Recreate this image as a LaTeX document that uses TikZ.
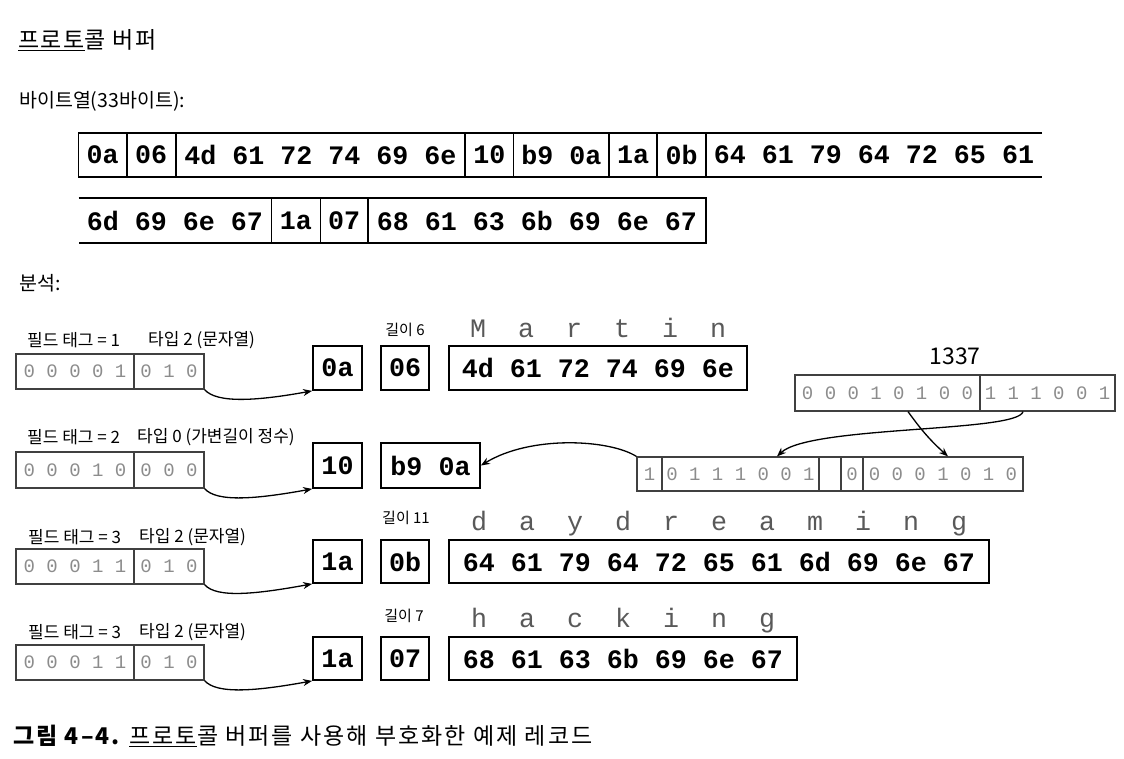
\documentclass[tikz,border=0pt]{standalone}
\usepackage{fontspec}
\setmainfont{Noto Sans CJK KR}
\newfontfamily\monof{Liberation Mono}
\usetikzlibrary{arrows.meta,calc}
\begin{document}
\begin{tikzpicture}[x=1pt,y=-1pt,
  hex/.style={font=\monof\bfseries\fontsize{26.67}{30}\selectfont, inner sep=0pt},
  hexbox/.style={hex, draw, line width=1.8pt, minimum height=44pt},
  bitcell/.style={draw=black!75, line width=1.2pt, inner sep=0pt, minimum height=35pt,
    font=\monof\fontsize{19}{20}\selectfont, text=black!45},
  ltr/.style={font=\monof\fontsize{26.67}{30}\selectfont, text=black!65, anchor=base, inner sep=0pt},
  lab/.style={font=\fontsize{17}{19}\selectfont, anchor=west, inner sep=0pt},
  lenlab/.style={font=\fontsize{15}{17}\selectfont, inner sep=0pt},
  head/.style={font=\fontsize{19.5}{22}\selectfont, anchor=west, inner sep=0pt},
  arr/.style={-{Stealth[length=9pt,width=7pt]}, line width=1.3pt},
  rowline/.style={line width=1.6pt}
]
\useasboundingbox (0,0) rectangle (1124,758);

% headings
\node[head, font=\fontsize{23}{26}\selectfont\addfontfeatures{LetterSpace=7}] (title) at (18,40) {\underline{프로토}콜 버퍼};
\node[head] (bytes) at (19,101) {바이트열(33바이트):};
\node[head] (anal) at (19,283) {분석:};

% byte row 1
\draw[rowline] (1042,133) -- (78.6,133) -- (78.6,177) -- (1042,177);
\foreach \x in {126.8,175.7,465,513.6,609,657,706} \draw[rowline] (\x,133) -- (\x,177);
\node[hex] (r1a) at (102.7,155) {0a};
\node[hex] (r1b) at (151.25,155) {06};
\node[hex] (r1c) at (320.35,155) {4d 61 72 74 69 6e};
\node[hex] (r1d) at (489.3,155) {10};
\node[hex] (r1e) at (561.3,155) {b9 0a};
\node[hex] (r1f) at (633,155) {1a};
\node[hex] (r1g) at (681.5,155) {0b};
\node[hex] (r1h) at (874,155) {64 61 79 64 72 65 61};

% byte row 2
\draw[rowline] (78.6,198) -- (706,198) -- (706,243) -- (78.6,243);
\foreach \x in {271.4,320.4,368} \draw[rowline] (\x,198) -- (\x,243);
\node[hex] (r2a) at (175,220.5) {6d 69 6e 67};
\node[hex] (r2b) at (295.9,220.5) {1a};
\node[hex] (r2c) at (344.2,220.5) {07};
\node[hex] (r2d) at (537,220.5) {68 61 63 6b 69 6e 67};

% ---- field A
\node[lab] (lA1) at (27,340) {필드 태그 = 1};
\node[lab] (lA2) at (148,340) {타입 2 (문자열)};
\node[bitcell, minimum width=118pt] (bA1) at (75,371.5) {0 0 0 0 1};
\node[bitcell, minimum width=70pt] (bA2) at (169,371.5) {0 1 0};
\node[hexbox, minimum width=49pt] (hA1) at (337.5,368) {0a};
\node[hexbox, minimum width=48pt] (hA2) at (405,368) {06};
\node[hexbox, minimum width=298pt] (hA3) at (598,368) {4d 61 72 74 69 6e};
\node[lenlab] (gA) at (405,330) {길이 6};
\foreach \c [count=\i from 0] in {M,a,r,t,i,n}
  \node[ltr] (mA\i) at (478+48*\i,337) {\c};
\draw[arr] (bA2.south east) .. controls +(12,14) and +(-55,10) .. (hA1.south west);

% ---- field B
\node[lab] (lB1) at (27,437) {필드 태그 = 2};
\node[lab] (lB2) at (137,437) {타입 0 (가변길이 정수)};
\node[bitcell, minimum width=118pt, minimum height=36pt] (bB1) at (75,470) {0 0 0 1 0};
\node[bitcell, minimum width=70pt, minimum height=36pt] (bB2) at (169,470) {0 0 0};
\node[hexbox, minimum width=49pt, minimum height=45pt] (hB1) at (337.5,465.5) {10};
\node[hexbox, minimum width=99pt, minimum height=45pt] (hB2) at (430.5,465.5) {b9 0a};
\draw[arr] (bB2.south east) .. controls +(12,14) and +(-55,10) .. (hB1.south west);

% 1337 varint
\node[font=\fontsize{23}{25}\selectfont, inner sep=0pt] (n1337) at (955,356) {1337};
\node[bitcell, minimum width=185pt, minimum height=36pt] (u1) at (887.5,393) {0 0 0 1 0 1 0 0};
\node[bitcell, minimum width=135pt, minimum height=36pt] (u2) at (1047.5,393) {1 1 1 0 0 1};
\node[bitcell, minimum width=25pt, minimum height=34pt] (l1) at (649.5,474) {1};
\node[bitcell, minimum width=157pt, minimum height=34pt] (l2) at (740.5,474) {0 1 1 1 0 0 1};
\node[bitcell, minimum width=22pt, minimum height=34pt] (l3) at (830,474) {};
\node[bitcell, minimum width=22pt, minimum height=34pt] (l4) at (852,474) {0};
\node[bitcell, minimum width=160pt, minimum height=34pt] (l5) at (943,474) {0 0 0 1 0 1 0};
\draw[arr] ([xshift=20.5pt]u1.south) to[bend right=6] ([xshift=5pt]l5.north);
\draw[arr] ([xshift=-24.5pt]u2.south) .. controls +(-5,21) and +(33,-31) .. ([xshift=36.5pt]l2.north);
\draw[arr] (l1.north west) .. controls +(-27,-17) and +(50,-30.5) .. (hB2.east);

% ---- field C
\node[lab] (lC1) at (28,537) {필드 태그 = 3};
\node[lab] (lC2) at (139,537) {타입 2 (문자열)};
\node[bitcell, minimum width=118pt] (bC1) at (75,566.5) {0 0 0 1 1};
\node[bitcell, minimum width=70pt] (bC2) at (169,566.5) {0 1 0};
\node[hexbox, minimum width=49pt, minimum height=43pt] (hC1) at (337.5,561.5) {1a};
\node[hexbox, minimum width=48pt, minimum height=43pt] (hC2) at (405,561.5) {0b};
\node[hexbox, minimum width=540pt, minimum height=43pt] (hC3) at (719,561.5) {64 61 79 64 72 65 61 6d 69 6e 67};
\node[lenlab] (gC) at (406,518) {길이 11};
\foreach \c [count=\i from 0] in {d,a,y,d,r,e,a,m,i,n,g}
  \node[ltr] (mC\i) at (479+48*\i,530) {\c};
\draw[arr] (bC2.south east) .. controls +(12,14) and +(-55,10) .. (hC1.south west);

% ---- field D
\node[lab] (lD1) at (28,632) {필드 태그 = 3};
\node[lab] (lD2) at (139,632) {타입 2 (문자열)};
\node[bitcell, minimum width=118pt] (bD1) at (75,662.5) {0 0 0 1 1};
\node[bitcell, minimum width=70pt] (bD2) at (169,662.5) {0 1 0};
\node[hexbox, minimum width=49pt, minimum height=43pt] (hD1) at (337.5,658.5) {1a};
\node[hexbox, minimum width=48pt, minimum height=43pt] (hD2) at (405,658.5) {07};
\node[hexbox, minimum width=348pt, minimum height=43pt] (hD3) at (623,658.5) {68 61 63 6b 69 6e 67};
\node[lenlab] (gD) at (404,616) {길이 7};
\foreach \c [count=\i from 0] in {h,a,c,k,i,n,g}
  \node[ltr] (mD\i) at (479+48*\i,627) {\c};
\draw[arr] (bD2.south east) .. controls +(12,14) and +(-55,10) .. (hD1.south west);

% caption
\node[anchor=west, inner sep=0pt, font=\fontsize{23}{26}\selectfont\addfontfeatures{LetterSpace=9}] (cap) at (13,736)
  {{\bfseries 그림 4–4.} \underline{프로토}콜 버퍼를 사용해 부호화한 예제 레코드};
\end{tikzpicture}
\end{document}
